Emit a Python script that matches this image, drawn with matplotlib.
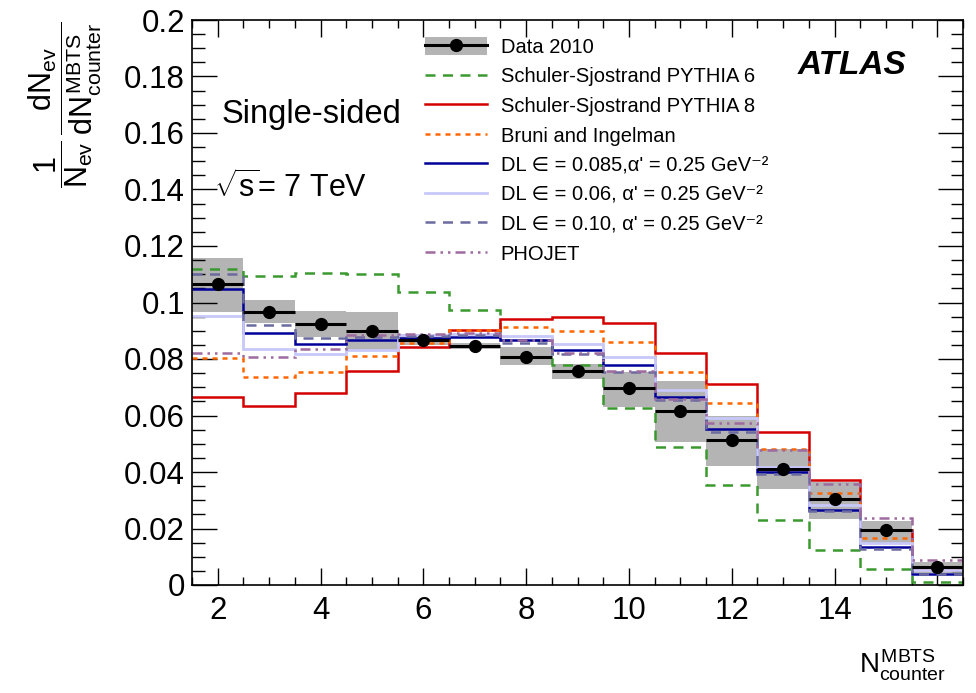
import numpy as np
import matplotlib
matplotlib.use("Agg")
import matplotlib.pyplot as plt
from matplotlib.patches import Patch
from matplotlib.lines import Line2D
from matplotlib.ticker import MultipleLocator, FuncFormatter

plt.rcParams['font.family'] = ['Liberation Sans', 'DejaVu Sans']
plt.rcParams['mathtext.fontset'] = 'custom'
plt.rcParams['mathtext.rm'] = 'Liberation Sans'
plt.rcParams['mathtext.it'] = 'Liberation Sans'
plt.rcParams['mathtext.bf'] = 'Liberation Sans:bold'

# ---------------- data ----------------
n_counter = [2, 3, 4, 5, 6, 7, 8, 9, 10, 11, 12, 13, 14, 15, 16]
data_2010 = [0.1064, 0.0968, 0.0924, 0.0899, 0.0867, 0.0846, 0.0808, 0.0759,
             0.0697, 0.0615, 0.0512, 0.0411, 0.0303, 0.0193, 0.0065]
sys_high = [0.1156, 0.1009, 0.0971, 0.0966, 0.0890, 0.0858, 0.0844, 0.0781,
            0.0755, 0.0722, 0.0599, 0.0483, 0.0364, 0.0225, 0.0083]
sys_low = [0.0966, 0.0926, 0.0877, 0.0829, 0.0848, 0.0835, 0.0780, 0.0728,
           0.0629, 0.0505, 0.0421, 0.0339, 0.0235, 0.0150, 0.0041]

pythia6 = [0.1119, 0.1094, 0.1103, 0.1100, 0.1038, 0.0973, 0.0868, 0.0780,
           0.0628, 0.0490, 0.0354, 0.0230, 0.0125, 0.0056, 0.0012]
pythia8 = [0.0664, 0.0635, 0.0679, 0.0757, 0.0842, 0.0903, 0.0942, 0.0947,
           0.0927, 0.0821, 0.0710, 0.0541, 0.0372, 0.0196, 0.0059]
bruni = [0.0805, 0.0737, 0.0753, 0.0812, 0.0858, 0.0901, 0.0914, 0.0900,
         0.0861, 0.0753, 0.0646, 0.0481, 0.0325, 0.0165, 0.0054]
dl_085 = [0.1047, 0.0891, 0.0853, 0.0867, 0.0874, 0.0878, 0.0868, 0.0832,
          0.0779, 0.0667, 0.0553, 0.0400, 0.0264, 0.0133, 0.0040]
dl_06 = [0.0953, 0.0834, 0.0817, 0.0832, 0.0885, 0.0890, 0.0880, 0.0854,
         0.0808, 0.0690, 0.0590, 0.0418, 0.0283, 0.0148, 0.0052]
dl_10 = [0.1100, 0.0922, 0.0873, 0.0877, 0.0881, 0.0884, 0.0856, 0.0816,
         0.0755, 0.0655, 0.0540, 0.0393, 0.0263, 0.0126, 0.0038]
phojet = [0.0820, 0.0808, 0.0835, 0.0885, 0.0889, 0.0891, 0.0866, 0.0820,
          0.0756, 0.0660, 0.0572, 0.0479, 0.0358, 0.0238, 0.0088]

labels = ["Data 2010",
          "Schuler-Sjostrand PYTHIA 6",
          "Schuler-Sjostrand PYTHIA 8",
          "Bruni and Ingelman",
          "DL \u2208 = 0.085,\u03b1' = 0.25 GeV\u207b\u00b2",
          "DL \u2208 = 0.06, \u03b1' = 0.25 GeV\u207b\u00b2",
          "DL \u2208 = 0.10, \u03b1' = 0.25 GeV\u207b\u00b2",
          "PHOJET"]

# ---------------- figure ----------------
fig = plt.figure(figsize=(9.76, 6.93), dpi=100)
ax = fig.add_axes([192/976, 1-585/693, (963-192)/976, (585-20)/693])

x = np.array(n_counter, dtype=float)
edges = np.append(x - 0.5, x[-1] + 0.5)
lo = np.array(sys_low)
hi = np.array(sys_high)

ax.bar(x, hi - lo, bottom=lo, width=1.0, color='#b4b4b4', edgecolor='none', zorder=1)

models = [
    (pythia6, dict(color='#3a9a30', ls=(0, (4, 3)), lw=1.8)),
    (pythia8, dict(color='#d40000', ls='-', lw=1.8)),
    (bruni, dict(color='#ff6600', ls=(0, (2, 2)), lw=1.8)),
    (dl_085, dict(color='#000099', ls='-', lw=1.8)),
    (dl_06, dict(color='#c8c8fa', ls='-', lw=2.0)),
    (dl_10, dict(color='#6b6ba0', ls=(0, (4, 3)), lw=1.8)),
    (phojet, dict(color='#9e6aa0', ls=(0, (4, 2, 1, 2, 1, 2)), lw=1.8)),
]
handles = []
for vals, st in models:
    ax.stairs(vals, edges, baseline=None, zorder=2, **st)
    handles.append(Line2D([], [], **st))

ax.errorbar(x, data_2010, xerr=0.5, fmt='o', color='black', ms=8.5,
            elinewidth=2.2, capsize=0, zorder=4)
data_handle = (Patch(facecolor='#b4b4b4', edgecolor='none'),
               Line2D([], [], color='black', lw=2.2, marker='o', ms=8.5))
handles = [data_handle] + handles

ax.set_xlim(1.5, 16.5)
ax.set_ylim(0, 0.2)
ax.xaxis.set_major_locator(MultipleLocator(2))
ax.xaxis.set_minor_locator(MultipleLocator(0.5))
ax.yaxis.set_major_locator(MultipleLocator(0.02))
ax.yaxis.set_minor_locator(MultipleLocator(0.005))
ax.yaxis.set_major_formatter(FuncFormatter(lambda v, p: f"{v:g}"))
ax.tick_params(axis='both', which='both', direction='in', top=True, right=True,
               labelsize=22.5, width=1.0)
ax.tick_params(axis='y', which='major', length=18, pad=5)
ax.tick_params(axis='y', which='minor', length=9)
ax.tick_params(axis='x', which='major', length=12, pad=8)
ax.tick_params(axis='x', which='minor', length=6)
for s in ax.spines.values():
    s.set_linewidth(1.2)

ax.legend(handles, labels, loc='upper left', bbox_to_anchor=(425/976, 1-37/693),
          bbox_transform=fig.transFigure, frameon=False, fontsize=14.5,
          handlelength=3.1, handleheight=1.0, handletextpad=0.65, labelspacing=0.48,
          borderpad=0, borderaxespad=0)

fig.text(222/976, 1-115/693, "Single-sided", fontsize=23.5, ha='left', va='center')
fig.text(214/976, 1-187/693, r"$\sqrt{\mathrm{s}}$= 7 TeV", fontsize=22, ha='left', va='center')
fig.text(906/976, 1-65/693, "ATLAS", fontsize=24, fontweight='bold', fontstyle='italic',
         ha='right', va='center')

fig.text(65/976, 1-105/693,
         r"$\dfrac{1}{N_{\mathrm{ev}}}\,\dfrac{dN_{\mathrm{ev}}}{dN^{\mathrm{MBTS}}_{\mathrm{counter}}}$",
         fontsize=22, rotation=90, ha='center', va='center')
fig.text(946/976, 1-665/693, r"$N^{\mathrm{MBTS}}_{\mathrm{counter}}$",
         fontsize=20, ha='right', va='center')

fig.savefig("out.png", dpi=100)
